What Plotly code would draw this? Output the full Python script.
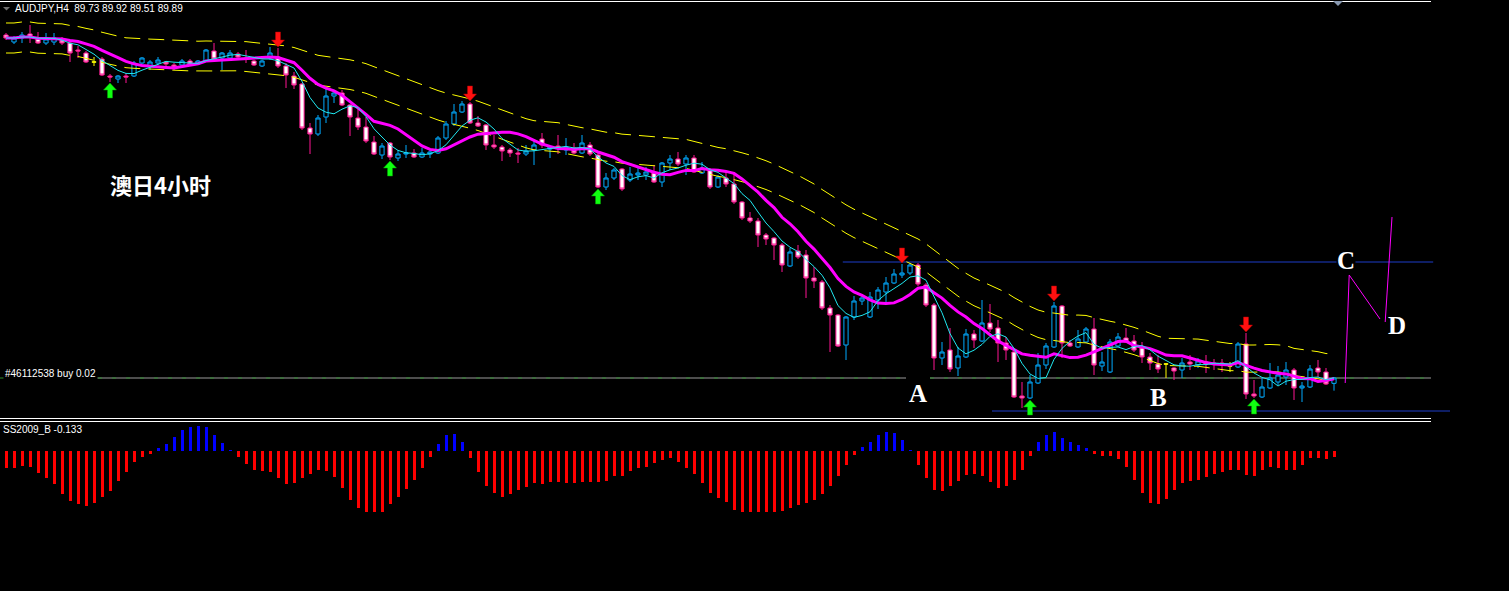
import numpy as np
import pandas as pd
import plotly.graph_objects as go

W, H = 1509, 591

# ---------------- data (AUDJPY H4) ----------------
opens = [100.18, 99.97, 100.09, 100.21, 100.06, 99.94, 99.97, 100.03, 99.94, 99.73,
         99.64, 99.37, 99.46, 98.95, 98.86, 98.95, 98.95, 99.34, 99.25, 99.34,
         99.37, 99.28, 99.28, 99.40, 99.31, 99.40, 99.70, 99.49, 99.49, 99.61,
         99.49, 99.40, 99.25, 99.49, 99.52, 99.25, 98.95, 98.71, 97.39, 97.21,
         97.72, 98.35, 98.44, 98.08, 97.69, 97.42, 96.97, 96.58, 96.94, 96.49,
         96.61, 96.64, 96.52, 96.61, 96.64, 97.09, 97.51, 97.87, 98.11, 97.54,
         97.48, 96.88, 96.82, 96.73, 96.64, 96.61, 96.73, 97.06, 96.76, 96.85,
         96.73, 96.79, 96.64, 96.88, 96.58, 95.62, 95.89, 96.16, 95.83, 95.98,
         95.98, 96.04, 95.77, 96.34, 96.46, 96.31, 96.49, 96.04, 96.13, 95.62,
         95.89, 95.71, 95.17, 94.69, 94.60, 94.18, 94.09, 93.88, 93.25, 93.70,
         93.58, 92.89, 92.77, 91.99, 91.78, 90.88, 91.72, 92.20, 91.72, 92.23,
         92.47, 92.74, 92.98, 93.04, 93.28, 92.68, 92.08, 90.49, 90.73, 90.19,
         90.52, 91.21, 91.00, 91.54, 91.39, 90.94, 90.67, 89.35, 89.29, 89.74,
         90.28, 90.82, 92.05, 90.94, 90.82, 90.97, 91.36, 90.25, 90.07, 90.85,
         91.09, 91.00, 90.79, 90.52, 90.31, 90.31, 90.19, 90.13, 90.37, 90.28,
         90.37, 90.34, 90.34, 90.25, 90.22, 90.91, 89.41, 89.32, 89.59, 89.77,
         89.92, 90.13, 89.59, 89.62, 90.19, 90.07, 89.73]
highs = [100.24, 100.15, 100.27, 100.48, 100.27, 100.24, 100.24, 100.12, 99.97, 99.85,
         99.70, 99.52, 99.52, 99.01, 98.98, 99.04, 99.40, 99.52, 99.43, 99.52,
         99.40, 99.34, 99.46, 99.46, 99.43, 99.76, 99.94, 99.67, 99.73, 99.67,
         99.73, 99.43, 99.43, 99.82, 99.79, 99.34, 99.07, 98.74, 97.54, 97.78,
         98.62, 98.53, 98.53, 98.11, 97.99, 97.72, 97.15, 96.94, 96.97, 96.73,
         96.88, 96.76, 96.79, 96.73, 97.15, 97.60, 98.11, 98.20, 98.17, 97.75,
         97.51, 97.18, 96.88, 96.79, 96.79, 96.88, 97.06, 97.24, 96.88, 97.18,
         97.09, 96.94, 97.18, 96.97, 96.64, 96.04, 96.19, 96.19, 96.22, 96.19,
         96.22, 96.28, 96.37, 96.58, 96.67, 96.58, 96.58, 96.37, 96.19, 95.98,
         96.07, 96.07, 95.20, 94.87, 94.69, 94.24, 94.12, 93.94, 93.79, 93.88,
         93.73, 93.22, 92.83, 92.08, 91.81, 91.75, 92.35, 92.38, 92.47, 92.62,
         92.92, 93.16, 93.31, 93.34, 93.34, 92.74, 92.14, 90.97, 91.39, 90.82,
         91.36, 91.33, 92.23, 92.11, 91.63, 91.12, 90.73, 89.77, 89.98, 90.64,
         90.94, 92.17, 92.08, 91.03, 91.33, 91.42, 91.69, 90.67, 91.06, 91.24,
         91.39, 91.18, 90.97, 90.64, 90.58, 90.34, 90.22, 90.49, 90.58, 90.49,
         90.58, 90.46, 90.46, 90.37, 90.97, 91.24, 89.83, 89.89, 90.34, 90.25,
         90.37, 90.19, 89.77, 90.28, 90.43, 90.19, 89.92]
lows = [100.03, 99.91, 99.94, 99.94, 99.91, 99.88, 99.88, 99.88, 99.37, 99.49,
        99.34, 99.25, 98.95, 98.77, 98.74, 98.74, 98.92, 99.31, 99.13, 99.28,
        99.25, 99.13, 99.25, 99.25, 99.28, 99.37, 99.43, 99.13, 99.43, 99.43,
        99.34, 99.25, 99.22, 99.43, 99.19, 98.59, 98.56, 97.33, 96.61, 97.15,
        97.54, 98.14, 98.05, 97.15, 97.33, 96.94, 96.58, 96.46, 96.43, 96.40,
        96.49, 96.49, 96.49, 96.49, 96.61, 97.03, 97.45, 97.84, 97.51, 97.42,
        96.73, 96.76, 96.40, 96.52, 96.34, 96.55, 96.28, 96.79, 96.49, 96.61,
        96.58, 96.61, 96.61, 96.55, 95.59, 95.53, 95.83, 95.50, 95.77, 95.83,
        95.83, 95.74, 95.62, 96.13, 96.25, 95.98, 96.04, 96.01, 95.56, 95.59,
        95.62, 95.11, 94.63, 94.54, 93.82, 93.88, 93.43, 93.07, 93.22, 93.46,
        92.29, 92.59, 91.93, 90.67, 90.82, 90.43, 91.63, 92.08, 91.69, 91.96,
        92.17, 92.71, 92.89, 92.98, 92.65, 92.02, 90.13, 90.28, 90.07, 89.95,
        90.49, 90.79, 90.97, 91.27, 90.37, 90.43, 89.29, 88.99, 89.26, 89.71,
        90.16, 90.79, 90.49, 90.82, 90.79, 90.94, 89.98, 90.10, 90.04, 90.82,
        90.94, 90.67, 90.34, 90.13, 90.04, 89.89, 89.83, 89.89, 90.13, 90.19,
        90.04, 90.13, 90.07, 90.07, 90.19, 89.26, 89.29, 89.29, 89.56, 89.68,
        89.68, 89.23, 89.17, 89.59, 89.92, 89.68, 89.51]
closes = [100.09, 100.09, 100.18, 100.12, 99.94, 100.06, 100.09, 99.94, 99.64, 99.70,
          99.37, 99.37, 98.98, 98.92, 98.95, 98.92, 99.34, 99.49, 99.37, 99.43,
          99.31, 99.22, 99.40, 99.31, 99.40, 99.73, 99.46, 99.64, 99.64, 99.52,
          99.46, 99.28, 99.40, 99.64, 99.25, 98.98, 98.68, 97.39, 97.21, 97.69,
          98.35, 98.44, 98.08, 97.72, 97.42, 97.00, 96.61, 96.85, 96.52, 96.61,
          96.64, 96.52, 96.64, 96.67, 97.09, 97.51, 97.87, 98.11, 97.54, 97.45,
          96.88, 96.82, 96.70, 96.64, 96.61, 96.70, 96.88, 96.88, 96.82, 96.79,
          96.82, 96.64, 96.94, 96.61, 95.62, 95.89, 96.13, 95.56, 96.01, 96.04,
          96.07, 95.77, 96.34, 96.46, 96.31, 96.49, 96.07, 96.19, 95.62, 95.92,
          95.71, 95.17, 94.69, 94.60, 94.18, 94.06, 93.88, 93.28, 93.67, 93.52,
          92.89, 92.80, 91.99, 91.78, 90.85, 91.72, 92.20, 92.29, 92.32, 92.53,
          92.74, 93.01, 93.04, 93.28, 92.71, 92.08, 90.49, 90.67, 90.16, 90.55,
          91.21, 91.03, 91.54, 91.36, 90.94, 90.73, 89.32, 89.29, 89.77, 90.28,
          90.85, 92.05, 90.94, 90.85, 91.06, 91.36, 90.28, 90.37, 90.97, 91.12,
          90.97, 90.73, 90.52, 90.34, 90.16, 90.31, 90.10, 90.34, 90.31, 90.40,
          90.31, 90.31, 90.28, 90.25, 90.91, 89.41, 89.35, 89.62, 89.89, 89.98,
          90.13, 89.59, 89.65, 90.16, 90.07, 89.71, 89.89]

ss2009_b = [-0.38, -0.38, -0.33, -0.36, -0.49, -0.60, -0.73, -0.95, -1.11, -1.18,
            -1.22, -1.15, -1.02, -0.89, -0.67, -0.47, -0.24, -0.13, -0.07,
            0.07, 0.16, 0.31, 0.47, 0.53, 0.56, 0.53, 0.36, 0.18, 0.02,
            -0.13, -0.29, -0.42, -0.44, -0.47, -0.60, -0.73, -0.71, -0.60, -0.51,
            -0.42, -0.44, -0.58, -0.82, -1.09, -1.27, -1.35, -1.35, -1.35, -1.18,
            -1.02, -0.84, -0.64, -0.38, -0.13,
            0.16, 0.36, 0.38, 0.20,
            -0.16, -0.47, -0.78, -0.93, -1.02, -0.95, -0.87, -0.80, -0.71, -0.73,
            -0.69, -0.69, -0.71, -0.71, -0.69, -0.69, -0.69, -0.67, -0.56, -0.56,
            -0.44, -0.38, -0.36, -0.27, -0.20, -0.16, -0.24, -0.38, -0.51, -0.71,
            -0.93, -1.04, -1.13, -1.31, -1.35, -1.35, -1.35,
            -1.35, -1.35, -1.33, -1.27, -1.20, -1.15, -1.09, -0.95, -0.78, -0.56,
            -0.31, -0.09,
            0.09, 0.20, 0.36, 0.42, 0.40, 0.24, 0.01,
            -0.31, -0.60, -0.87, -0.89, -0.78, -0.67, -0.53, -0.51, -0.56, -0.69,
            -0.82, -0.78, -0.64, -0.42, -0.11,
            0.20, 0.36, 0.42, 0.29, 0.20, 0.13, 0.07,
            -0.07, -0.11, -0.11, -0.18, -0.36, -0.64, -0.93, -1.15, -1.18, -1.07,
            -0.87, -0.71, -0.67, -0.64, -0.58, -0.51, -0.47, -0.42, -0.42, -0.53,
            -0.56, -0.42, -0.36, -0.38, -0.42, -0.42, -0.31, -0.16, -0.16, -0.18,
            -0.133]

sell_signals = [34, 58, 112, 131, 155]
buy_signals = [13, 48, 74, 128, 156]

order_price = 89.89
order_label = "#46112538 buy 0.02"
title_text = "AUDJPY,H4  89.73 89.92 89.51 89.89"
ind_label = "SS2009_B -0.133"

# drawn objects (bar index, price)
hline_c = (104.6, 178.4, 93.37)
hline_b = (123.25, 180.5, 88.90)
draw1_x = [167.4, 167.9, 171.75]
draw1_y = [89.74, 92.98, 91.66]
draw2_x = [172.4, 173.25]
draw2_y = [91.57, 94.72]
label_text = ["A", "B", "C", "D"]
label_x = [114.06, 144.1, 167.44, 173.9]
label_y = [89.425, 89.32, 93.43, 91.48]
cn_text = "澳日4小时"
cn_x, cn_y = 19.3, 95.71

# ---------------- derived ----------------
n = len(closes)
idx = np.arange(n)
o = np.array(opens); h = np.array(highs); l = np.array(lows); c = np.array(closes)
cs = pd.Series(c)
ma_fast = cs.rolling(5, min_periods=1).mean()
ma_mid = cs.rolling(10, min_periods=1).mean()
ma_slow = cs.rolling(30, min_periods=1).mean()
env_up = ma_slow * 1.0045
env_dn = ma_slow * 0.9955

# axes geometry
PRICE_TOP, PRICE_BOT_PX = 101.23, 417
PPX = 0.03                      # price per pixel
XMIN = -0.75
XMAX = XMIN + W / 8.0
XPX = 1.0 / 8.0                 # bar index per pixel
HIST_TOP_PX = 422
HIST_VPX = 0.0222
hist_top = (451 - HIST_TOP_PX) * HIST_VPX
hist_bot = -(H - 451) * HIST_VPX


def px(xp):
    return xp / W


def py(yp):
    return 1 - yp / H


fig = go.Figure()

bull = c > o
bear = c < o
doji = c == o


def cs_trace(mask, inc_col, inc_fill, dec_col, dec_fill):
    return go.Candlestick(
        x=idx[mask], open=o[mask], high=h[mask], low=l[mask], close=c[mask],
        increasing=dict(line=dict(color=inc_col, width=1), fillcolor=inc_fill),
        decreasing=dict(line=dict(color=dec_col, width=1), fillcolor=dec_fill),
        whiskerwidth=0, hoverinfo="skip", showlegend=False, xaxis="x", yaxis="y")


fig.add_trace(cs_trace(bull, "#00aaff", "#000000", "#00aaff", "#000000"))
fig.add_trace(cs_trace(bear, "#ff1493", "#ffffff", "#ff1493", "#ffffff"))
fig.add_trace(cs_trace(doji, "#ffff00", "#000000", "#ffff00", "#000000"))

for band in (env_up, env_dn):
    fig.add_trace(go.Scatter(x=idx, y=band, mode="lines",
                             line=dict(color="#ffff00", width=1, dash="16px,8px"),
                             hoverinfo="skip", showlegend=False))
fig.add_trace(go.Scatter(x=idx, y=ma_mid, mode="lines",
                         line=dict(color="#ff00ff", width=3), hoverinfo="skip", showlegend=False))
fig.add_trace(go.Scatter(x=idx, y=ma_fast, mode="lines",
                         line=dict(color="#20e8f0", width=1), hoverinfo="skip", showlegend=False))

# hand drawn lines
fig.add_trace(go.Scatter(x=draw1_x, y=draw1_y, mode="lines",
                         line=dict(color="#ff00ff", width=1), hoverinfo="skip", showlegend=False))
fig.add_trace(go.Scatter(x=draw2_x, y=draw2_y, mode="lines",
                         line=dict(color="#ff00ff", width=1), hoverinfo="skip", showlegend=False))

# histogram
hv = np.array(ss2009_b)
fig.add_trace(go.Bar(x=idx, y=hv, width=0.375,
                     marker=dict(color=np.where(hv > 0, "#0000ff", "#ff0000").tolist(), line=dict(width=0)),
                     hoverinfo="skip", showlegend=False, xaxis="x", yaxis="y2"))

shapes = []
# frame lines
for yp in (1.5, 418.5, 421.5):
    shapes.append(dict(type="line", xref="paper", yref="paper", x0=0, x1=px(1431),
                       y0=py(yp), y1=py(yp), line=dict(color="#ffffff", width=1)))
# order line (with gap)
for a, b in ((0, 906), (930, 1431)):
    shapes.append(dict(type="line", xref="paper", yref="y", x0=px(max(a, 92)), x1=px(b),
                       y0=order_price, y1=order_price, line=dict(color="#9a9a9a", width=1),
                       layer="below"))
    shapes.append(dict(type="line", xref="paper", yref="y", x0=px(a), x1=px(b),
                       y0=order_price, y1=order_price,
                       line=dict(color="#2e8b2e", width=1, dash="4px,10px"), layer="below"))
# blue horizontal lines
for x0, x1, pr in (hline_c, hline_b):
    shapes.append(dict(type="line", xref="x", yref="y", x0=x0, x1=x1, y0=pr, y1=pr,
                       line=dict(color="#1c3cc8", width=1), layer="below"))
# chart-shift triangles
shapes.append(dict(type="path", xref="paper", yref="paper",
                   path=f"M{px(3)},{py(7)} L{px(10)},{py(7)} L{px(6.5)},{py(10.5)} Z",
                   fillcolor="#707070", line=dict(width=0)))
shapes.append(dict(type="path", xref="paper", yref="paper",
                   path=f"M{px(1333)},{py(1)} L{px(1343)},{py(1)} L{px(1338)},{py(6)} Z",
                   fillcolor="#8898b0", line=dict(width=0)))


def arrow_path(i, tip, direction):
    # direction: -1 = pointing down (tip at bottom), +1 = pointing up
    s = -direction
    pts = [(0, 0), (-6.5, 7), (-2.5, 7), (-2.5, 15), (2.5, 15), (2.5, 7), (6.5, 7)]
    coords = [(i + dx * XPX, tip + s * dy * PPX) for dx, dy in pts]
    return "M" + " L".join(f"{x:.4f},{y:.4f}" for x, y in coords) + " Z"


for i in sell_signals:
    shapes.append(dict(type="path", xref="x", yref="y",
                       path=arrow_path(i, h[i] + 1 * PPX, -1),
                       fillcolor="#ff1010", line=dict(color="#b00000", width=0.5)))
for i in buy_signals:
    shapes.append(dict(type="path", xref="x", yref="y",
                       path=arrow_path(i, l[i] - 1 * PPX, 1),
                       fillcolor="#10ff10", line=dict(color="#00a000", width=0.5)))

annotations = [
    dict(text=title_text, xref="paper", yref="paper", x=px(13), y=py(8.5),
         xanchor="left", yanchor="middle", showarrow=False,
         font=dict(family="Liberation Sans, Arial", size=10, color="#ffffff")),
    dict(text=order_label, xref="paper", yref="paper", x=px(3), y=py(373),
         xanchor="left", yanchor="middle", showarrow=False, bgcolor="#000000",
         font=dict(family="Liberation Sans, Arial", size=10, color="#ffffff")),
    dict(text=ind_label, xref="paper", yref="paper", x=px(1), y=py(429),
         xanchor="left", yanchor="middle", showarrow=False,
         font=dict(family="Liberation Sans, Arial", size=10, color="#ffffff")),
    dict(text="<b>" + cn_text + "</b>", xref="x", yref="y", x=cn_x, y=cn_y, showarrow=False,
         font=dict(family="Noto Sans CJK SC", size=22, color="#ffffff")),
]
for t, xx, yy in zip(label_text, label_x, label_y):
    annotations.append(dict(text="<b>" + t + "</b>", xref="x", yref="y", x=xx, y=yy, showarrow=False,
                            bgcolor="#000000" if t == "C" else None,
                            borderpad=0,
                            font=dict(family="Liberation Serif, Times New Roman", size=25,
                                      color="#ffffff")))

fig.update_layout(
    width=W, height=H, margin=dict(l=0, r=0, t=0, b=0),
    paper_bgcolor="#000000", plot_bgcolor="#000000",
    showlegend=False, boxgap=0.25, bargap=0,
    xaxis=dict(range=[XMIN, XMAX], visible=False, rangeslider=dict(visible=False), fixedrange=True),
    yaxis=dict(domain=[1 - PRICE_BOT_PX / H, 1], range=[PRICE_TOP - PPX * PRICE_BOT_PX, PRICE_TOP],
               visible=False, fixedrange=True),
    yaxis2=dict(domain=[0, (H - HIST_TOP_PX) / H], range=[hist_bot, hist_top], anchor="x",
                visible=False, fixedrange=True),
    shapes=shapes, annotations=annotations,
)

fig.write_html("out.html", config={"displayModeBar": False},
               post_script="document.body.style.margin='0';document.body.style.background='#000';document.body.style.overflow='hidden';")
